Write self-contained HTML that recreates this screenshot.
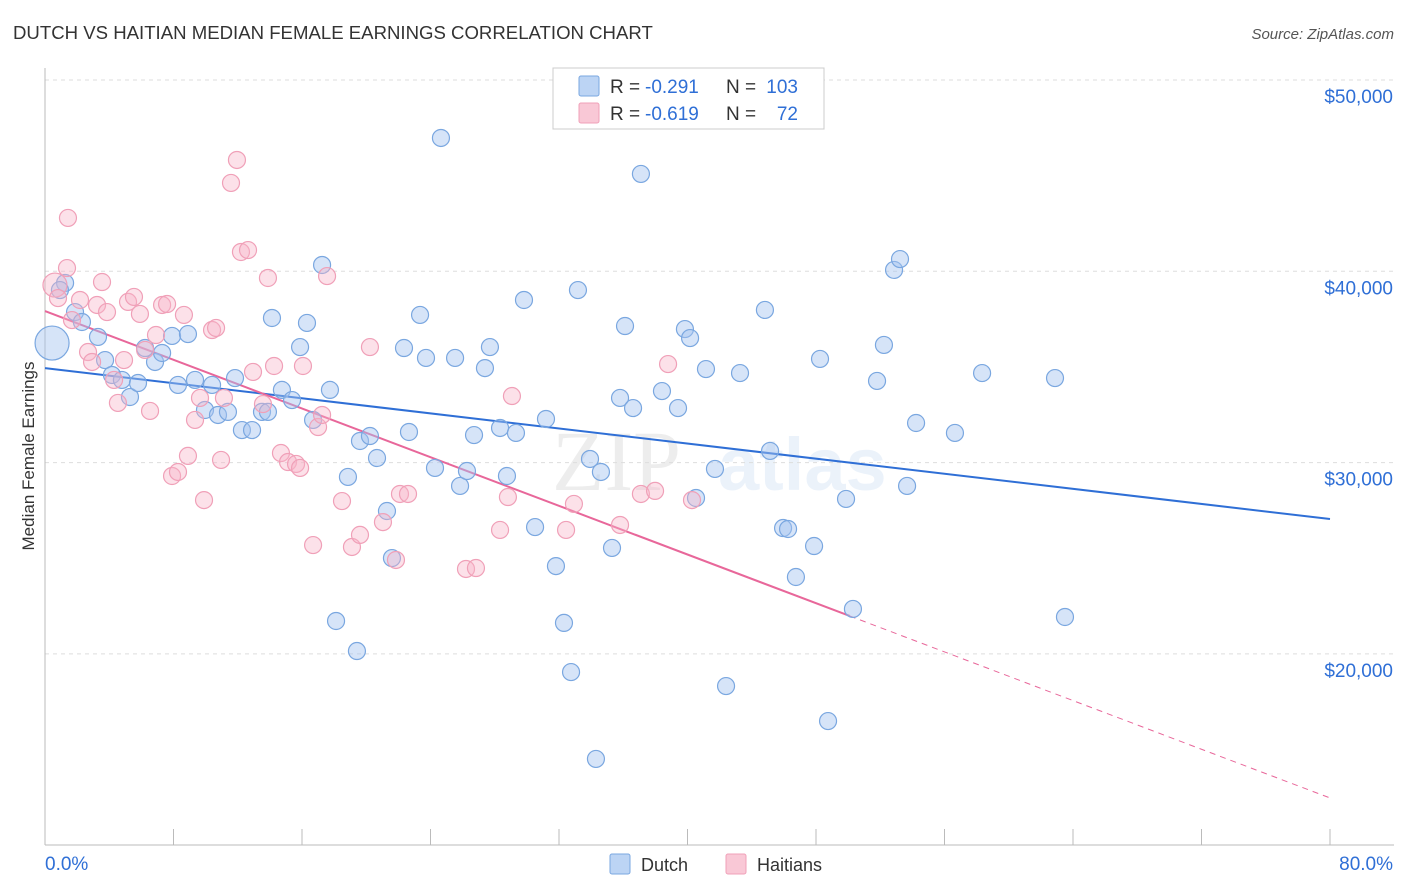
<!DOCTYPE html>
<html><head><meta charset="utf-8"><style>
body{margin:0;background:#fff;font-family:"Liberation Sans",sans-serif}
svg{display:block}
</style></head><body>
<svg id="c" width="1406" height="892" xmlns="http://www.w3.org/2000/svg">
<text x="13" y="39" font-size="18.6" fill="#333" font-family="Liberation Sans">DUTCH VS HAITIAN MEDIAN FEMALE EARNINGS CORRELATION CHART</text>
<text x="1394" y="39" font-size="15" fill="#555" text-anchor="end" font-style="italic">Source: ZipAtlas.com</text>
<text transform="translate(34,456) rotate(-90)" font-size="17" fill="#333" text-anchor="middle">Median Female Earnings</text>
<g opacity="0.1"><text x="552" y="490" font-size="86" font-family="Liberation Serif" fill="#555">ZIP</text><text x="718" y="490" font-size="74" fill="#4a88d8" font-weight="bold">atlas</text></g>
<g id="grid"></g><g id="axes"></g><g id="lines"></g><g id="pts"></g>
<g>
<rect x="553" y="68" width="271" height="61" fill="#fff" stroke="#ccc"/>
<rect x="579" y="76" width="20" height="20" fill="#bcd4f4" stroke="#7aa7e0" rx="2"/>
<rect x="579" y="103" width="20" height="20" fill="#f9c8d6" stroke="#f0a0b8" rx="2"/>
<text x="610" y="93" font-size="19" fill="#333">R =</text>
<text x="645" y="93" font-size="19" fill="#2f6fd6">-0.291</text>
<text x="726" y="93" font-size="19" fill="#333">N =</text>
<text x="798" y="93" font-size="19" fill="#2f6fd6" text-anchor="end">103</text>
<text x="610" y="120" font-size="19" fill="#333">R =</text>
<text x="645" y="120" font-size="19" fill="#2f6fd6">-0.619</text>
<text x="726" y="120" font-size="19" fill="#333">N =</text>
<text x="798" y="120" font-size="19" fill="#2f6fd6" text-anchor="end">72</text>
</g>
<g>
<rect x="610" y="854" width="20" height="20" fill="#bcd4f4" stroke="#7aa7e0" rx="2"/>
<text x="641" y="871" font-size="18" fill="#333">Dutch</text>
<rect x="726" y="854" width="20" height="20" fill="#f9c8d6" stroke="#f0a0b8" rx="2"/>
<text x="757" y="871" font-size="18" fill="#333">Haitians</text>
</g>
</svg>
<script>
const yTicks=[20000,30000,40000,50000];
const yTickLabels=["$20,000","$30,000","$40,000","$50,000"];
const xLabels=["0.0%","80.0%"];
const dutchX=[0.44,1.25,0.93,1.87,2.30,3.30,3.74,4.17,4.79,5.29,5.79,6.23,6.85,7.29,7.91,8.28,8.90,9.34,9.96,10.40,10.77,11.39,11.83,12.26,12.89,13.51,13.88,14.13,14.75,15.38,15.88,16.31,16.69,17.25,17.74,18.12,18.86,19.42,19.61,20.23,20.67,21.29,21.60,22.35,22.66,23.35,23.72,24.28,25.53,25.84,26.27,26.71,27.39,27.70,28.33,28.76,29.32,29.82,30.51,31.19,31.81,32.31,32.75,33.18,33.93,34.30,34.61,35.30,35.80,36.11,36.61,37.10,38.41,39.41,39.84,40.16,40.53,41.15,41.71,42.40,43.27,44.82,45.14,45.95,46.26,46.75,47.88,48.25,48.75,49.87,50.30,51.80,52.23,52.86,53.23,53.67,54.23,56.65,58.34,62.88,63.50,24.65];
const dutchY=[36.25,39.39,39.02,37.87,37.35,36.57,35.36,34.58,34.32,33.43,34.16,35.99,35.26,35.73,36.62,34.06,36.72,34.32,32.75,34.06,32.49,32.65,34.42,31.70,31.70,32.65,32.65,37.56,33.80,33.27,36.04,37.30,32.23,40.33,33.80,21.72,29.25,20.15,31.13,31.39,30.24,27.47,25.01,35.99,31.60,37.72,35.47,29.72,35.47,28.78,29.56,31.44,34.94,36.04,31.81,29.30,31.55,38.50,26.63,32.28,24.59,21.62,19.05,39.02,30.19,14.51,29.51,25.54,33.38,37.14,32.85,45.09,33.74,32.85,36.98,36.51,28.15,34.89,29.67,18.32,34.68,37.98,30.61,26.58,26.53,24.02,25.64,35.42,16.49,28.10,22.35,34.27,36.15,40.07,40.64,28.78,32.07,31.55,34.68,34.42,21.93,46.97];
const haitiX=[0.62,0.81,1.37,1.43,1.68,2.18,2.68,2.93,3.24,3.55,3.86,4.30,4.54,4.92,5.17,5.54,5.91,6.23,6.54,6.91,7.29,7.60,7.91,8.28,8.65,8.90,9.34,9.65,9.90,10.40,10.65,10.96,11.14,11.58,11.95,12.20,12.64,12.95,13.57,13.88,14.26,14.69,15.13,15.63,15.88,16.06,16.69,17.00,17.25,17.56,18.49,19.11,19.61,20.23,21.04,21.85,22.10,22.60,26.21,26.83,28.33,28.82,29.07,32.44,32.93,35.80,37.10,37.98,38.79,40.28];
const haitiY=[39.28,38.60,40.17,42.79,37.45,38.50,35.78,35.26,38.24,39.44,37.87,34.32,33.12,35.36,38.40,38.66,37.77,35.89,32.70,36.67,38.24,38.29,29.30,29.51,37.72,30.35,32.23,33.38,28.04,36.93,37.04,30.14,33.38,44.62,45.82,41.01,41.11,34.74,33.06,39.65,35.05,30.50,30.03,29.93,29.72,35.05,25.69,31.86,32.49,39.75,27.99,25.59,26.22,36.04,26.89,24.91,28.36,28.36,24.44,24.49,26.48,28.20,33.48,26.48,27.84,26.74,28.36,28.52,35.15,28.04];
const dutchTrend=[34.94,27.05];
const haitiTrend=[37.92,12.47];
const haitiSolidEnd=50.1;
const NS="http://www.w3.org/2000/svg";
const X=v=>45+v/80*1285;
const Y=v=>80+(50-v)*19.13;
function mk(t,a,p){const e=document.createElementNS(NS,t);for(const k in a)e.setAttribute(k,a[k]);p.appendChild(e);return e;}
const grid=document.getElementById('grid'),axes=document.getElementById('axes'),lines=document.getElementById('lines'),pts=document.getElementById('pts');
yTicks.forEach((t,i)=>{
 const g=mk('line',{x1:45,x2:1394,y1:Y(t/1000),y2:Y(t/1000),stroke:'#ddd','stroke-dasharray':'4,4'},grid);
 
 
 const l=mk('text',{x:1393,y:Y(t/1000)+23,'font-size':19,fill:'#2f6fd6','text-anchor':'end'},axes);
 l.textContent=yTickLabels[i];
 
 
});
const ax=mk('line',{x1:45,x2:45,y1:68,y2:845,stroke:'#bbb'},axes);


const bx=mk('line',{x1:45,x2:1394,y1:845,y2:845,stroke:'#bbb'},axes);


for(let i=0;i<=10;i++){const tk=mk('line',{x1:X(i*8),x2:X(i*8),y1:829,y2:845,stroke:'#bbb'},axes);
 
 }
[[0,'start',45],[80,'end',1393]].forEach((d,i)=>{const t=mk('text',{x:d[2],y:870,'font-size':19,fill:'#2f6fd6','text-anchor':d[1]},axes);t.textContent=xLabels[i];
 
 });
function pt(x,y,c,s,r,n){const e=mk('circle',{cx:X(x),cy:Y(y),r:r,fill:c,stroke:s,'stroke-width':1.2},pts);
 
 }
dutchX.forEach((x,i)=>pt(x,dutchY[i],'rgba(164,196,240,0.45)','#7aa7e0',i==0?17:8.5,'dutch-point'));
haitiX.forEach((x,i)=>pt(x,haitiY[i],'rgba(248,180,200,0.4)','#f0a0b8',i==0?12:8.5,'haitian-point'));
const bl=mk('line',{x1:X(0),y1:Y(dutchTrend[0]),x2:X(80),y2:Y(dutchTrend[1]),stroke:'#2f6fd6','stroke-width':2},lines);


const hy=x=>haitiTrend[0]+(haitiTrend[1]-haitiTrend[0])*x/80;
const pl=mk('line',{x1:X(0),y1:Y(hy(0)),x2:X(haitiSolidEnd),y2:Y(hy(haitiSolidEnd)),stroke:'#e8679a','stroke-width':2},lines);


const pd=mk('line',{x1:X(haitiSolidEnd),y1:Y(hy(haitiSolidEnd)),x2:X(80),y2:Y(hy(80)),stroke:'#e8679a','stroke-width':1,'stroke-dasharray':'6,5'},lines);


</script>
</body></html>
